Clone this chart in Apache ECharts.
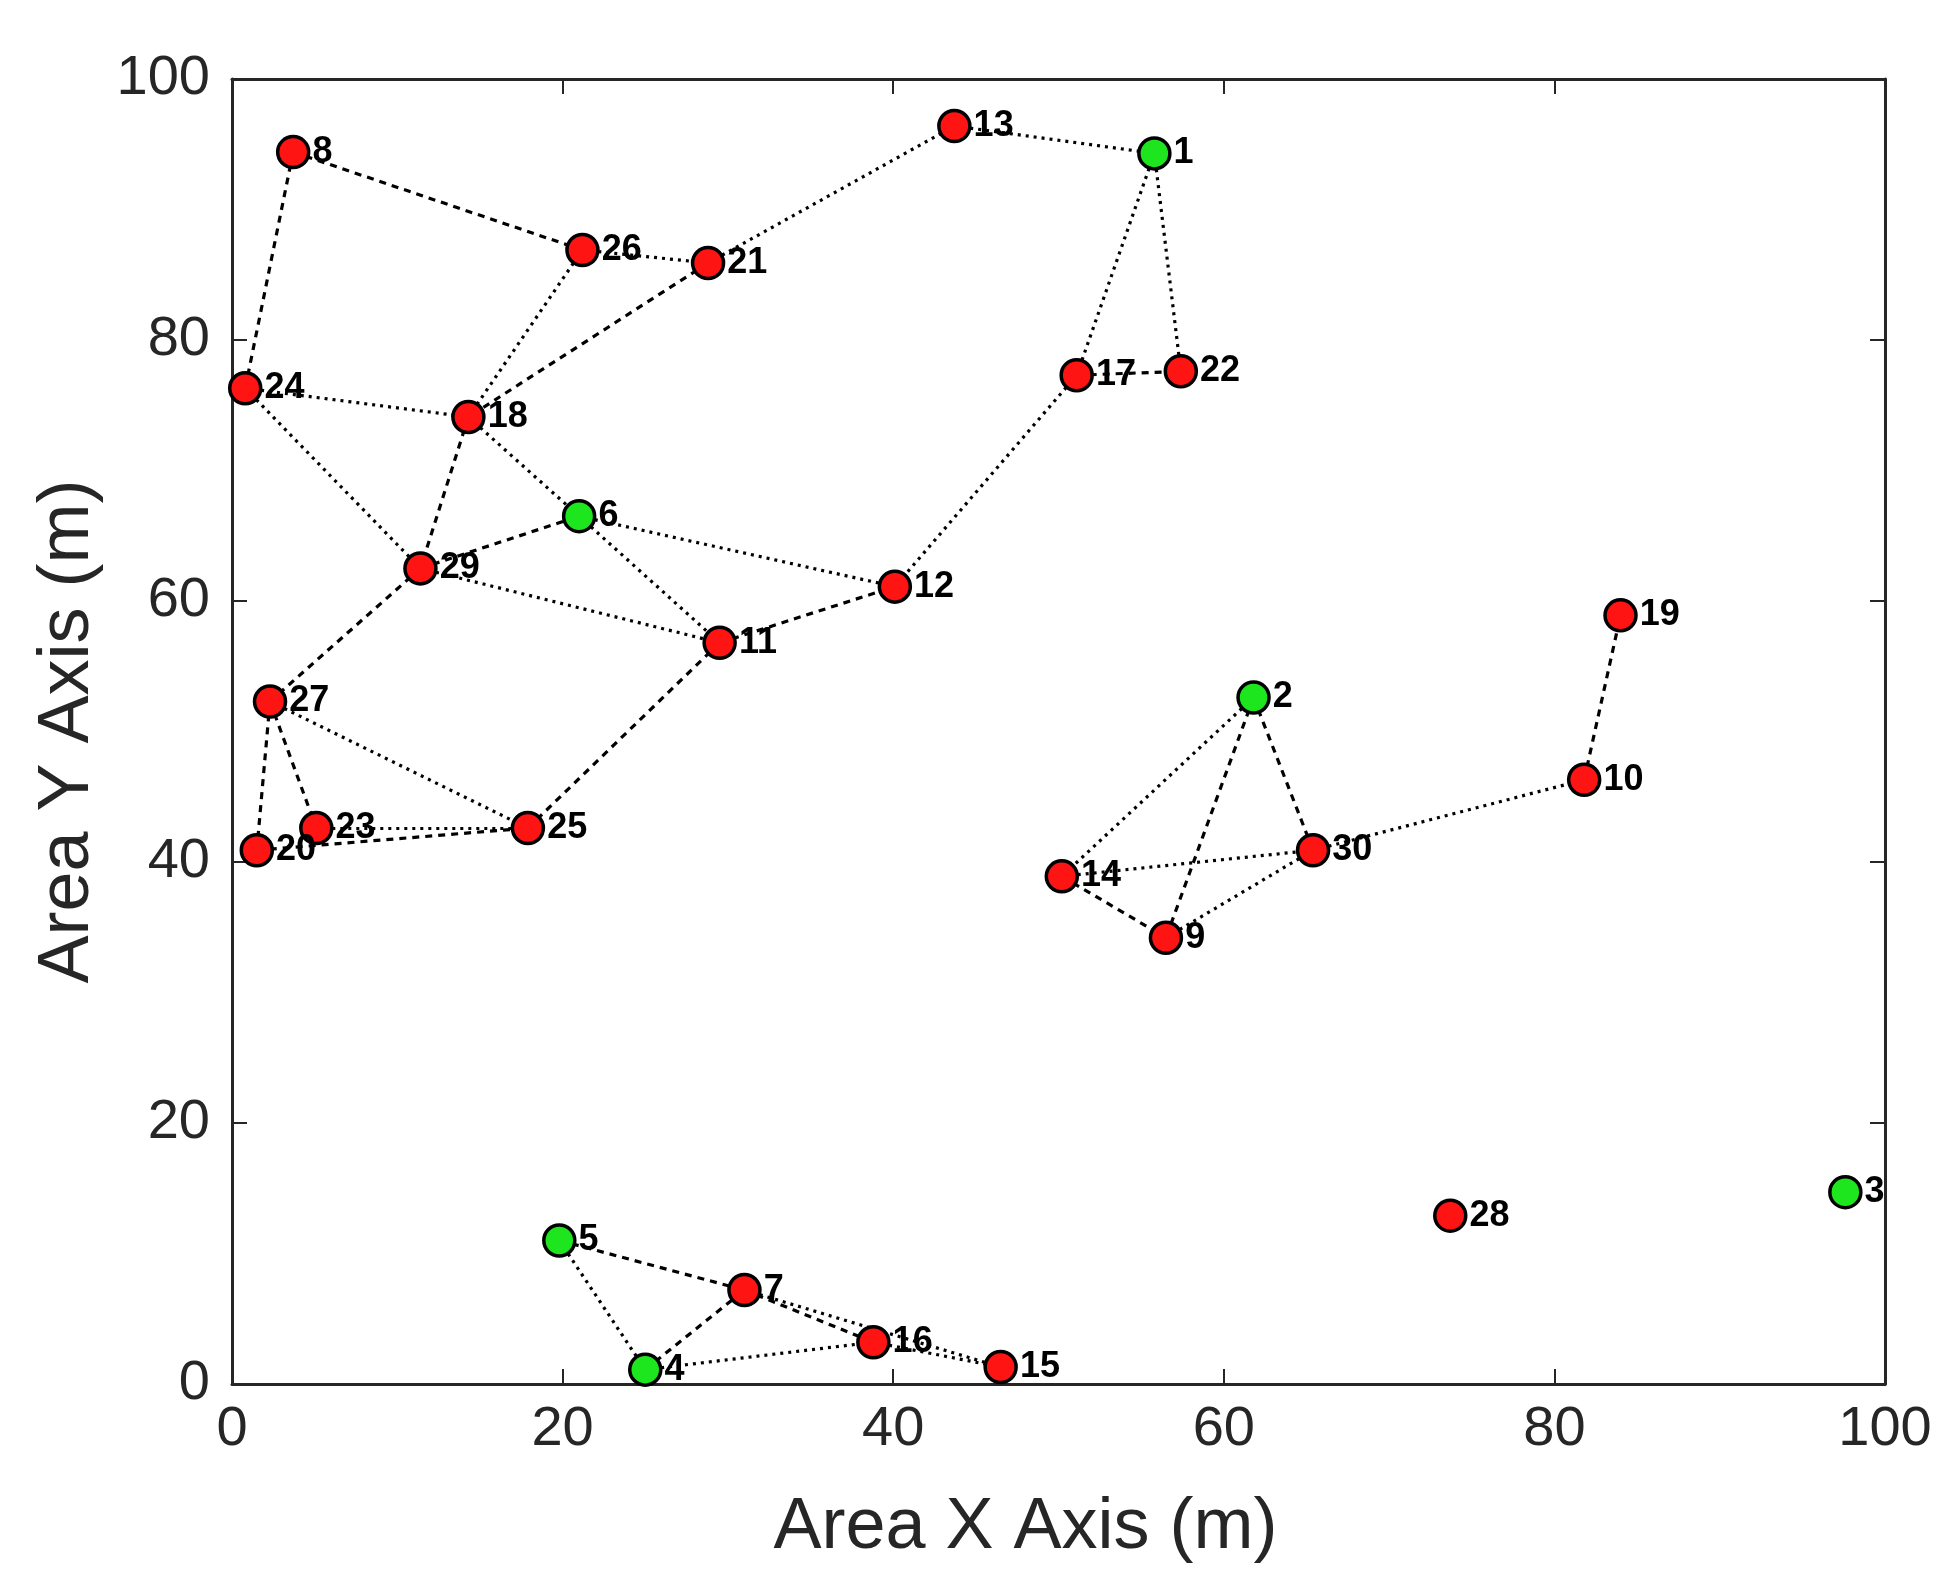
<!DOCTYPE html>
<html>
<head>
<meta charset="utf-8">
<script src="https://cdn.jsdelivr.net/npm/echarts@6/dist/echarts.min.js"></script>
<style>
html,body{margin:0;padding:0;background:#fff;}
#chart{width:1955px;height:1594px;}
</style>
</head>
<body>
<div id="chart"></div>
<script>
// Node ids and positions (m)
const nodeIds = [1,2,3,4,5,6,7,8,9,10,11,12,13,14,15,16,17,18,19,20,21,22,23,24,25,26,27,28,29,30];
const nodeX = [55.8,61.8,97.6,25.0,19.8,21.0,31.0,3.7,56.5,81.8,29.5,40.1,43.7,50.2,46.5,38.8,51.1,14.3,84.0,1.5,28.8,57.4,5.1,0.8,17.9,21.2,2.3,73.7,11.4,65.4];
const nodeY = [94.3,52.6,14.7,1.1,11.0,66.5,7.2,94.4,34.2,46.3,56.8,61.1,96.4,38.9,1.3,3.2,77.3,74.1,58.9,40.9,85.9,77.6,42.6,76.3,42.6,86.9,52.3,12.9,62.5,40.9];
// Anchor (green) nodes
const anchorIds = [1,2,3,4,5,6];
// Links
const dashEdges = [[8,24],[8,26],[21,18],[17,22],[18,29],[29,6],[11,12],[29,27],[11,25],[27,20],[27,23],[20,25],[5,7],[4,7],[7,16],[2,9],[2,30],[14,9],[10,19]];
const dotEdges = [[26,21],[26,18],[21,13],[13,1],[1,17],[1,22],[17,12],[24,18],[24,29],[18,6],[6,12],[6,11],[29,11],[27,25],[23,25],[5,4],[4,16],[7,15],[16,15],[2,14],[14,30],[9,30],[30,10]];
// Axis ticks
const xTicks = [0,20,40,60,80,100];
const yTicks = [0,20,40,60,80,100];

const FONT = 'Liberation Sans, Arial, Helvetica, sans-serif';
const axisCol = '#262626';

const nodes = nodeIds.map((id, i) => ({
  name: String(id),
  value: [nodeX[i], nodeY[i]],
  itemStyle: { color: anchorIds.includes(id) ? '#1ee61e' : '#ff1414' }
}));
const links = dashEdges.map(e => ({ source: String(e[0]), target: String(e[1]), lineStyle: { type: [7, 6] } }))
  .concat(dotEdges.map(e => ({ source: String(e[0]), target: String(e[1]), lineStyle: { type: [3, 5] } })));

function axisBase(pos, showLabel) {
  return {
    type: 'value', position: pos, min: 0, max: 100, interval: 20,
    axisLine: { show: true, onZero: false, lineStyle: { color: axisCol, width: 3 } },
    axisTick: { show: true, inside: true, length: 15, lineStyle: { color: axisCol, width: 2 } },
    splitLine: { show: false },
    axisLabel: { show: showLabel, color: axisCol, fontSize: 56, fontFamily: FONT }
  };
}

const xMain = Object.assign(axisBase('bottom', true), {
  name: 'Area X Axis (m)', nameLocation: 'middle', nameGap: 108,
  nameTextStyle: { fontSize: 72, color: axisCol, fontFamily: FONT, padding: [0, 66, 0, 0] }
});
xMain.axisLabel.margin = 18;
xMain.axisLabel.formatter = v => xTicks.includes(v) ? String(v) : '';
const yMain = Object.assign(axisBase('left', true), {
  name: 'Area Y Axis (m)', nameLocation: 'middle', nameGap: 128,
  nameTextStyle: { fontSize: 72, color: axisCol, fontFamily: FONT }
});
yMain.axisLabel.margin = 22;
yMain.axisLabel.formatter = v => yTicks.includes(v) ? String(v) : '';

const chart = echarts.init(document.getElementById('chart'));
chart.setOption({
  animation: false,
  backgroundColor: '#fff',
  grid: { left: 232, right: 70, top: 79, bottom: 210, containLabel: false },
  xAxis: [xMain, axisBase('top', false)],
  yAxis: [yMain, axisBase('right', false)],
  series: [{
    type: 'graph',
    coordinateSystem: 'cartesian2d',
    xAxisIndex: 0, yAxisIndex: 0,
    symbol: 'circle',
    symbolSize: 31,
    data: nodes,
    links: links,
    edgeSymbol: ['none', 'none'],
    itemStyle: { borderColor: '#000', borderWidth: 3.5 },
    lineStyle: { color: '#000', width: 3.2, opacity: 1, curveness: 0 },
    label: {
      show: true, position: 'right', distance: 2, formatter: '{b}',
      color: '#000', fontSize: 36, fontWeight: 'bold', fontFamily: FONT
    },
    emphasis: { disabled: true },
    silent: true
  }]
});
</script>
</body>
</html>
